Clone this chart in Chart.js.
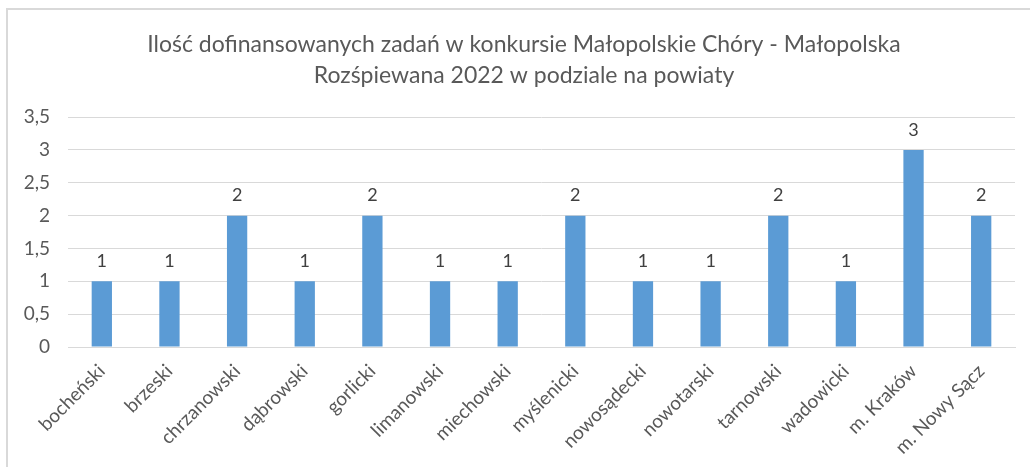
<!DOCTYPE html>
<html>
<head>
<meta charset="utf-8">
<script src="https://cdn.jsdelivr.net/npm/chart.js@4/dist/chart.umd.min.js"></script>
<style>
  html, body { margin: 0; padding: 0; background: #ffffff; overflow: hidden; }
  #wrap { position: absolute; left: 0; top: 0; width: 1030px; height: 467px; }
  #frame { position: absolute; left: 6px; top: 8px; width: 1040px; height: 480px;
           border: 2px solid #d9d9d9; box-sizing: border-box; pointer-events: none; }
  canvas { position: absolute; left: 0; top: 0; }
</style>
</head>
<body>
<div id="wrap">
  <canvas id="c" width="1030" height="467"></canvas>
  <div id="frame"></div>
</div>
<script>
const titleLines = ["Ilość dofinansowanych zadań w konkursie Małopolskie Chóry - Małopolska",
                    "Rozśpiewana 2022 w podziale na powiaty"];
const categories = ["bocheński", "brzeski", "chrzanowski", "dąbrowski", "gorlicki",
                    "limanowski", "miechowski", "myślenicki", "nowosądecki", "nowotarski",
                    "tarnowski", "wadowicki", "m. Kraków", "m. Nowy Sącz"];
const values = [1, 1, 2, 1, 2, 1, 1, 2, 1, 1, 2, 1, 3, 2];
const yTicks = [0, 0.5, 1, 1.5, 2, 2.5, 3, 3.5];

const FONT = "Lato, 'Open Sans', sans-serif";
const TXT = "#595959";

const valueLabels = {
  id: 'valueLabels',
  afterDatasetsDraw(chart) {
    const ctx = chart.ctx;
    const meta = chart.getDatasetMeta(0);
    ctx.save();
    ctx.font = "18px " + FONT;
    ctx.fillStyle = "#404040";
    ctx.textAlign = "center";
    ctx.textBaseline = "middle";
    meta.data.forEach((bar, i) => {
      ctx.fillText(String(values[i]), bar.x, bar.y - 20);
    });
    ctx.restore();
  }
};

// centre the title on the framed chart area rather than the whole canvas
const titleShift = {
  id: 'titleShift',
  afterLayout(chart) {
    const t = chart.titleBlock;
    if (t) { t.left = 33; t.right = 1015; }
  }
};

new Chart(document.getElementById('c'), {
  type: 'bar',
  data: {
    labels: categories,
    datasets: [{
      data: values,
      backgroundColor: '#5b9bd5',
      borderWidth: 0,
      categoryPercentage: 1.0,
      barPercentage: 0.3
    }]
  },
  options: {
    responsive: false,
    animation: false,
    layout: { padding: { left: 0, right: 15, top: 0, bottom: 0 } },
    plugins: {
      legend: { display: false },
      tooltip: { enabled: false },
      title: {
        display: true,
        text: titleLines,
        color: TXT,
        font: { family: FONT, size: 23, weight: 'normal', lineHeight: 1.35 },
        padding: { top: 29.5, bottom: 25.5 }
      }
    },
    scales: {
      y: {
        min: 0, max: 3.5,
        afterBuildTicks(scale) { scale.ticks = yTicks.map(v => ({ value: v })); },
        afterFit(scale) { scale.width = 68; },
        ticks: {
          color: TXT,
          font: { family: FONT, size: 19 },
          padding: 18,
          callback: v => String(v).replace('.', ',')
        },
        grid: { color: '#d9d9d9', lineWidth: 1, drawTicks: false },
        border: { display: false }
      },
      x: {
        afterFit(scale) { scale.height = 120; },
        ticks: {
          color: TXT,
          font: { family: FONT, size: 19 },
          minRotation: 45, maxRotation: 45,
          padding: 13,
          autoSkip: false
        },
        grid: { display: false, drawTicks: false },
        border: { display: true, color: '#d9d9d9', width: 1 }
      }
    }
  },
  plugins: [valueLabels, titleShift]
});
</script>
</body>
</html>
